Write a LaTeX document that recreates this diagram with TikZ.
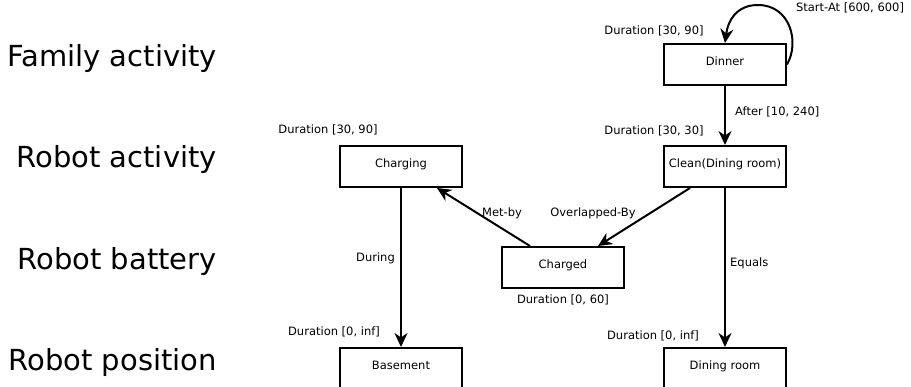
\documentclass[tikz,border=0pt]{standalone}
\usepackage{fontspec}
\setmainfont{DejaVu Sans}
\usetikzlibrary{arrows.meta}
\begin{document}
\begin{tikzpicture}[x=1pt,y=-1pt,
  box/.style={draw,line width=2pt,minimum width=122pt,inner xsep=0pt,inner ysep=0pt,
    text height=22pt,text depth=19pt,font=\fontsize{11.5}{13}\selectfont,anchor=north},
  lbl/.style={font=\fontsize{11.5}{13}\selectfont,inner sep=0pt},
  row/.style={font=\fontsize{29}{32}\selectfont,inner sep=0pt,anchor=base east},
  conn/.style={line width=2pt,-{Stealth[length=14pt,width=13pt,inset=4.5pt]}}]
\useasboundingbox (0,0) rectangle (911,387);

% row labels
\node[row] (r1) at (217,67) {Family activity};
\node[row] (r2) at (217,168) {Robot activity};
\node[row] (r3) at (217,270) {Robot battery};
\node[row] (r4) at (217,371) {Robot position};

% boxes
\node[box] (dinner) at (725,43) {Dinner};
\node[box] (charging) at (401,145) {Charging};
\node[box] (clean) at (725,145) {Clean(Dining room)};
\node[box] (charged) at (563,246) {Charged};
\node[box] (basement) at (401,347) {Basement};
\node[box] (dining) at (725,347) {Dining room};

% duration labels
\node[lbl] (d1) at (654,31) {Duration [30, 90]};
\node[lbl] (d2) at (328,130) {Duration [30, 90]};
\node[lbl] (d3) at (654,131) {Duration [30, 30]};
\node[lbl] (d4) at (563,300) {Duration [0, 60]};
\node[lbl] (d5) at (334,332) {Duration [0, inf]};
\node[lbl] (d6) at (653,336) {Duration [0, inf]};

% connectors
\coordinate (looptop) at (758,5);
\draw[conn] (dinner.east) .. controls (800,42) and (790,5) .. (looptop)
  .. controls (737,5) and (728,20) .. (dinner.north);
\node[lbl] (startat) at (850,8) {Start-At [600, 600]};

\draw[conn] (dinner.south) -- (clean.north);
\node[lbl,anchor=west] (after) at (735,112) {After [10, 240]};

\draw[conn] (charging.south) -- (basement.north);
\node[lbl,anchor=east] (during) at (395,258) {During};

\draw[conn] (clean.south) -- (dining.north);
\node[lbl,anchor=west] (equals) at (730,263) {Equals};

\draw[conn] ([xshift=-35pt]clean.south) -- ([xshift=35pt]charged.north);
\node[lbl] (ovl) at (593,213) {Overlapped-By};

\draw[conn] ([xshift=-33pt]charged.north) -- ([xshift=36pt]charging.south);
\node[lbl] (met) at (502,213) {Met-by};
\end{tikzpicture}
\end{document}
